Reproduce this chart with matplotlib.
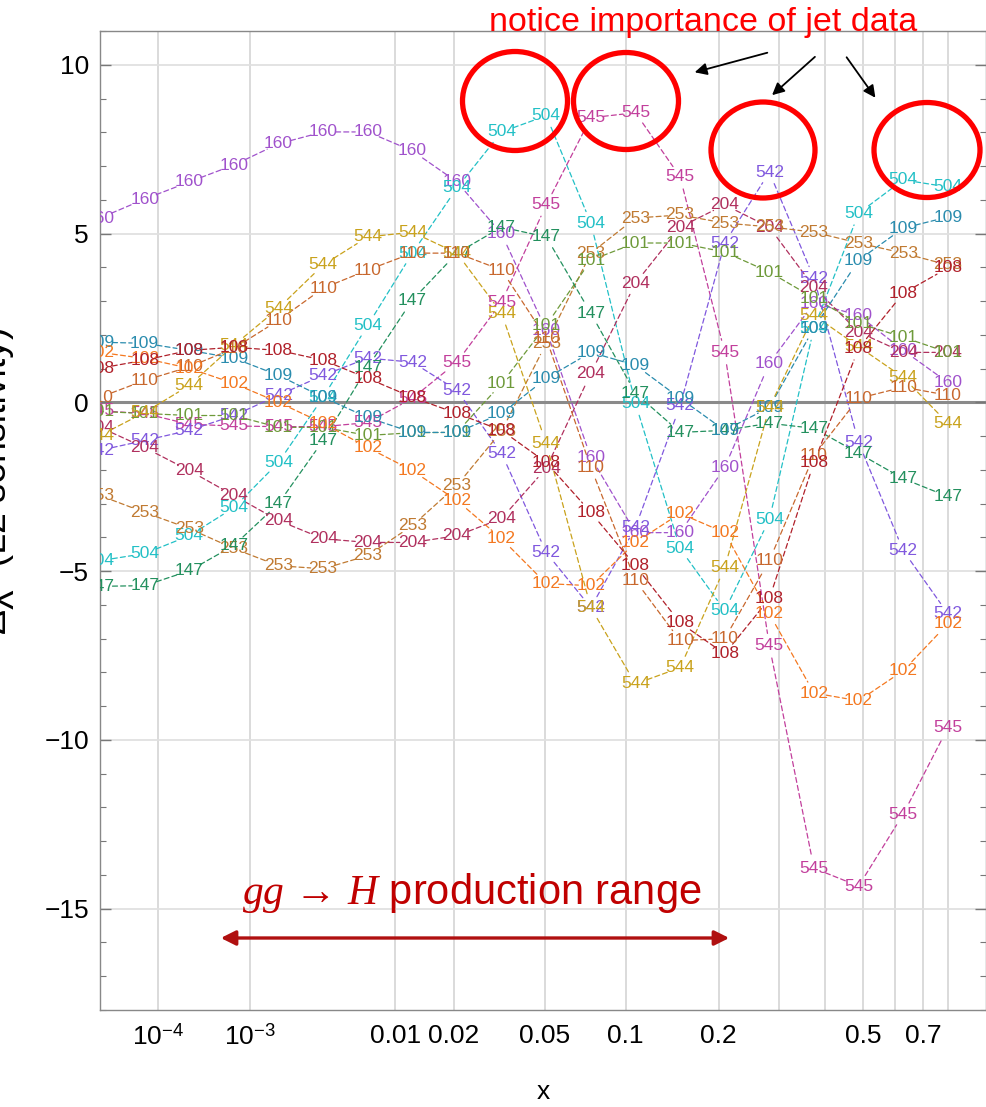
import numpy as np
import matplotlib
matplotlib.use("Agg")
import matplotlib.pyplot as plt
from matplotlib.patches import Ellipse, FancyArrowPatch

plt.rcParams['font.family'] = ['Liberation Sans', 'DejaVu Sans']
plt.rcParams['mathtext.fontset'] = 'custom'
plt.rcParams['mathtext.rm'] = 'Liberation Sans'
plt.rcParams['mathtext.sf'] = 'Liberation Sans'
plt.rcParams['mathtext.it'] = 'Liberation Serif:italic'
plt.rcParams['mathtext.bf'] = 'Liberation Sans:bold'

# ---------------- data ----------------
x_vals = [1.0e-5, 6.43e-5, 2.486e-4, 7.20e-4, 1.730e-3, 3.647e-3, 6.976e-3,
          1.2387e-2, 2.0729e-2, 3.3061e-2, 5.0668e-2, 7.5085e-2, 0.10812,
          0.15188, 0.20878, 0.28159, 0.37343, 0.48779, 0.62861, 0.80023]

s160 = [5.46, 6.02, 6.53, 7.03, 7.66, 8.01, 8.01, 7.45, 6.53, 4.99, 2.14, -1.63, -3.86, -3.86, -1.93, 1.16, 2.94, 2.58, 1.54, 0.59]
s504 = [-4.69, -4.48, -3.95, -3.12, -1.78, 0.15, 2.28, 4.42, 6.35, 8.01, 8.49, 5.31, -0.03, -4.33, -6.17, -3.47, 2.20, 5.60, 6.59, 6.38]
s545 = [-0.25, -0.33, -0.65, -0.70, -0.72, -0.72, -0.60, 0.12, 1.19, 2.97, 5.85, 8.43, 8.58, 6.68, 1.48, -7.21, -13.80, -14.33, -12.20, -9.64]
s542 = [-1.42, -1.13, -0.83, -0.39, 0.21, 0.80, 1.31, 1.19, 0.36, -1.51, -4.45, -6.08, -3.70, -0.10, 4.72, 6.82, 3.68, -1.19, -4.39, -6.26]
s204 = [-0.74, -1.34, -2.02, -2.76, -3.50, -4.04, -4.15, -4.15, -3.95, -3.44, -1.95, 0.86, 3.53, 5.19, 5.85, 5.19, 3.41, 2.08, 1.48, 1.48]
s253 = [-2.76, -3.26, -3.74, -4.33, -4.84, -4.93, -4.54, -3.65, -2.46, -0.85, 1.75, 4.42, 5.46, 5.55, 5.31, 5.20, 5.04, 4.72, 4.42, 4.07]
s101 = [-0.27, -0.33, -0.39, -0.39, -0.74, -0.74, -0.98, -0.90, -0.89, 0.56, 2.28, 4.21, 4.72, 4.72, 4.45, 3.86, 3.09, 2.34, 1.93, 1.48]
s147 = [-5.45, -5.43, -4.99, -4.24, -3.00, -1.13, 1.04, 3.03, 4.42, 5.19, 4.90, 2.64, 0.27, -0.89, -0.83, -0.62, -0.77, -1.51, -2.26, -2.79]
s109 = [1.78, 1.75, 1.54, 1.31, 0.80, 0.15, -0.45, -0.89, -0.89, -0.33, 0.71, 1.48, 1.10, 0.12, -0.83, -0.15, 2.20, 4.21, 5.16, 5.49]
s544 = [-0.98, -0.30, 0.50, 1.69, 2.79, 4.07, 4.90, 5.04, 4.42, 2.64, -1.22, -6.08, -8.34, -7.86, -4.90, -0.15, 2.58, 1.65, 0.74, -0.62]
s110 = [0.15, 0.65, 1.05, 1.60, 2.43, 3.38, 3.92, 4.42, 4.42, 3.92, 1.90, -1.93, -5.28, -7.06, -7.00, -4.69, -1.57, 0.12, 0.45, 0.21]
s102 = [1.48, 1.30, 1.01, 0.56, 0.00, -0.62, -1.34, -2.02, -2.91, -4.04, -5.37, -5.43, -4.15, -3.29, -3.86, -6.26, -8.61, -8.84, -7.95, -6.56]
s108 = [1.01, 1.25, 1.54, 1.63, 1.54, 1.25, 0.71, 0.15, -0.33, -0.83, -1.78, -3.26, -4.84, -6.53, -7.45, -5.82, -1.78, 1.60, 3.23, 3.98]

series_labels = ['160', '504', '545', '542', '204', '253', '101', '147', '109', '544', '110', '102', '108']
series_values = [s160, s504, s545, s542, s204, s253, s101, s147, s109, s544, s110, s102, s108]
series_colors = ['#a052cc', '#22c0c6', '#c23f9c', '#8058de', '#b0305e', '#c07a32', '#6e9a3a',
                 '#23905e', '#2a8cae', '#c9a21c', '#c8682e', '#f47820', '#b0202a']

xtick_vals = [1e-4, 1e-3, 0.01, 0.02, 0.05, 0.1, 0.2, 0.5, 0.7]
xtick_labels = [r'$10^{-4}$', r'$10^{-3}$', '0.01', '0.02', '0.05', '0.1', '0.2', '0.5', '0.7']
xminor_vals = [0.3, 0.4, 0.6, 0.8]
ytick_vals = [-15, -10, -5, 0, 5, 10]

# ---------------- figure ----------------
W, H = 986, 1107
fig = plt.figure(figsize=(W / 100, H / 100), dpi=100)
ax = fig.add_axes([100 / W, 1 - 1010 / H, 886 / W, (1010 - 31) / H])

fwd = lambda v: np.power(np.maximum(v, 0.0), 0.2)
inv = lambda t: np.power(np.maximum(t, 0.0), 5.0)
ax.set_xscale('function', functions=(fwd, inv))
ax.set_xlim(1.0e-5, 0.975)
ax.set_ylim(-18, 11)

# grid
for xv in xtick_vals + xminor_vals:
    ax.axvline(xv, color='#d8d8d8', lw=1.3, zorder=0)
for yv in ytick_vals:
    if yv == 0:
        ax.axhline(0, color='#8a8a8a', lw=2.2, zorder=0.5)
    else:
        ax.axhline(yv, color='#e0e0e0', lw=1.3, zorder=0)

# series
for lab, vals, col in zip(series_labels, series_values, series_colors):
    for i in range(len(x_vals) - 1):
        ax.annotate('', xy=(x_vals[i + 1], vals[i + 1]), xytext=(x_vals[i], vals[i]),
                    xycoords='data', textcoords='data',
                    arrowprops=dict(arrowstyle='-', color=col, lw=0.9,
                                    linestyle=(0, (4, 2.5)), shrinkA=9, shrinkB=9),
                    annotation_clip=False, zorder=2)
    for xv, yv in zip(x_vals, vals):
        ax.text(xv, yv, lab, color=col, fontsize=12.5, ha='center', va='center',
                clip_on=True, zorder=3)

# axes styling
ax.set_xticks(xtick_vals)
ax.set_xticklabels(xtick_labels)
ax.set_xticks(xminor_vals, minor=True)
ax.set_yticks(ytick_vals)
ax.set_yticklabels(['\u2212' + str(-v) if v < 0 else str(v) for v in ytick_vals])
ax.set_yticks(np.arange(-18, 12, 1), minor=True)
ax.tick_params(axis='both', which='both', direction='in', colors='#777777',
               labelcolor='black', labelsize=19)
ax.tick_params(axis='y', which='major', length=8, width=1, right=True, pad=8)
ax.tick_params(axis='y', which='minor', length=4, width=0.8, right=True)
ax.tick_params(axis='x', which='major', length=0, pad=10)
ax.tick_params(axis='x', which='minor', length=0)
for sp in ax.spines.values():
    sp.set_color('#888888')
    sp.set_linewidth(1.0)

ax.set_xlabel('x', fontsize=19, labelpad=22)
fig.text(-4 / W, 1 - 480 / H, '\u0394\u03c7\u00b2 (L2 sensitivity)', rotation=90, fontsize=27,
         ha='center', va='center')

# ---------------- annotations ----------------
fig.text(703 / W, 1 - 22 / H, 'notice importance of jet data', color='#ff0000',
         fontsize=24.5, ha='center', va='center')
for (cx, cy, w, h) in [(515, 101, 105, 99), (626, 101, 105, 97), (763, 150, 104, 96), (927, 150, 106, 95)]:
    fig.add_artist(Ellipse((cx / W, 1 - cy / H), w / W, h / H, transform=fig.transFigure,
                           fill=False, edgecolor='#ff0000', lw=3.8, zorder=5))
for (x0, y0, x1, y1) in [(770, 52, 692, 73), (817, 55, 770, 97), (845, 55, 877, 100)]:
    fig.add_artist(FancyArrowPatch((x0 / W, 1 - y0 / H), (x1 / W, 1 - y1 / H),
                                   transform=fig.transFigure, arrowstyle='-|>',
                                   mutation_scale=18, color='black', lw=1.3, zorder=6))

fig.text(472 / W, 1 - 893 / H, r'$gg\,\rightarrow\,H$ production range', color='#c00000',
         fontsize=30, ha='center', va='center')
fig.add_artist(FancyArrowPatch((218 / W, 1 - 938 / H), (732 / W, 1 - 938 / H),
                               transform=fig.transFigure, arrowstyle='<|-|>',
                               mutation_scale=22, color='#b01010', lw=2.4, zorder=6))

fig.savefig('out.png', dpi=100)
